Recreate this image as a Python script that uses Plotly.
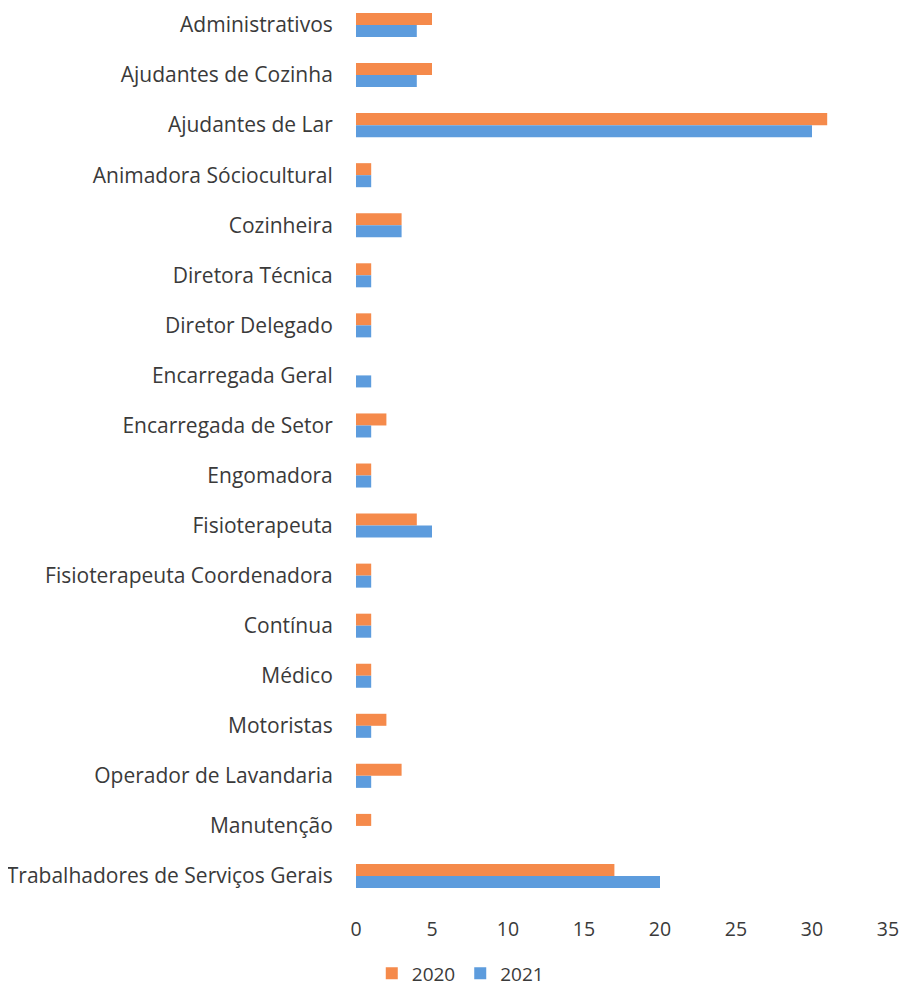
import plotly.graph_objects as go

categories = [
    "Administrativos", "Ajudantes de Cozinha", "Ajudantes de Lar", "Animadora Sóciocultural",
    "Cozinheira", "Diretora Técnica", "Diretor Delegado", "Encarregada Geral",
    "Encarregada de Setor", "Engomadora", "Fisioterapeuta", "Fisioterapeuta Coordenadora",
    "Contínua", "Médico", "Motoristas", "Operador de Lavandaria", "Manutenção",
    "Trabalhadores de Serviços Gerais",
]
values_2020 = [5, 5, 31, 1, 3, 1, 1, 0, 2, 1, 4, 1, 1, 1, 2, 3, 1, 17]
values_2021 = [4, 4, 30, 1, 3, 1, 1, 1, 1, 1, 5, 1, 1, 1, 1, 1, 0, 20]
x_ticks = [0, 5, 10, 15, 20, 25, 30, 35]

FONT = "'Open Sans', sans-serif"
TXT = "#3a3a3a"

fig = go.Figure()
fig.add_trace(go.Bar(y=categories, x=values_2020, name="2020", orientation="h",
                     marker=dict(color="#F58A4B", line=dict(width=0))))
fig.add_trace(go.Bar(y=categories, x=values_2021, name="2021", orientation="h",
                     marker=dict(color="#5D9CDD", line=dict(width=0))))

fig.update_layout(
    width=891, height=979,
    margin=dict(l=348, r=11, t=0, b=87),
    paper_bgcolor="white", plot_bgcolor="white",
    barmode="group", bargap=0.52, bargroupgap=0,
    font=dict(family=FONT, size=20, color=TXT),
    showlegend=True,
    legend=dict(orientation="h", x=0.196, xanchor="center",
                yref="container", y=0.014, yanchor="middle",
                font=dict(size=19, color=TXT), itemwidth=30, traceorder="normal"),
)
fig.update_xaxes(range=[0, 35], tickvals=x_ticks, showgrid=False, zeroline=False,
                 showline=False, ticks="outside", ticklen=12, tickcolor="rgba(0,0,0,0)",
                 automargin=False, ticklabeloverflow="allow",
                 tickfont=dict(size=19.5, color=TXT))
fig.update_yaxes(range=[17.48, -0.34], showgrid=False, showline=False, ticks="outside",
                 ticklen=18, tickcolor="rgba(0,0,0,0)", automargin=False,
                 tickfont=dict(size=21, color=TXT))

fig.write_html("out.html")
